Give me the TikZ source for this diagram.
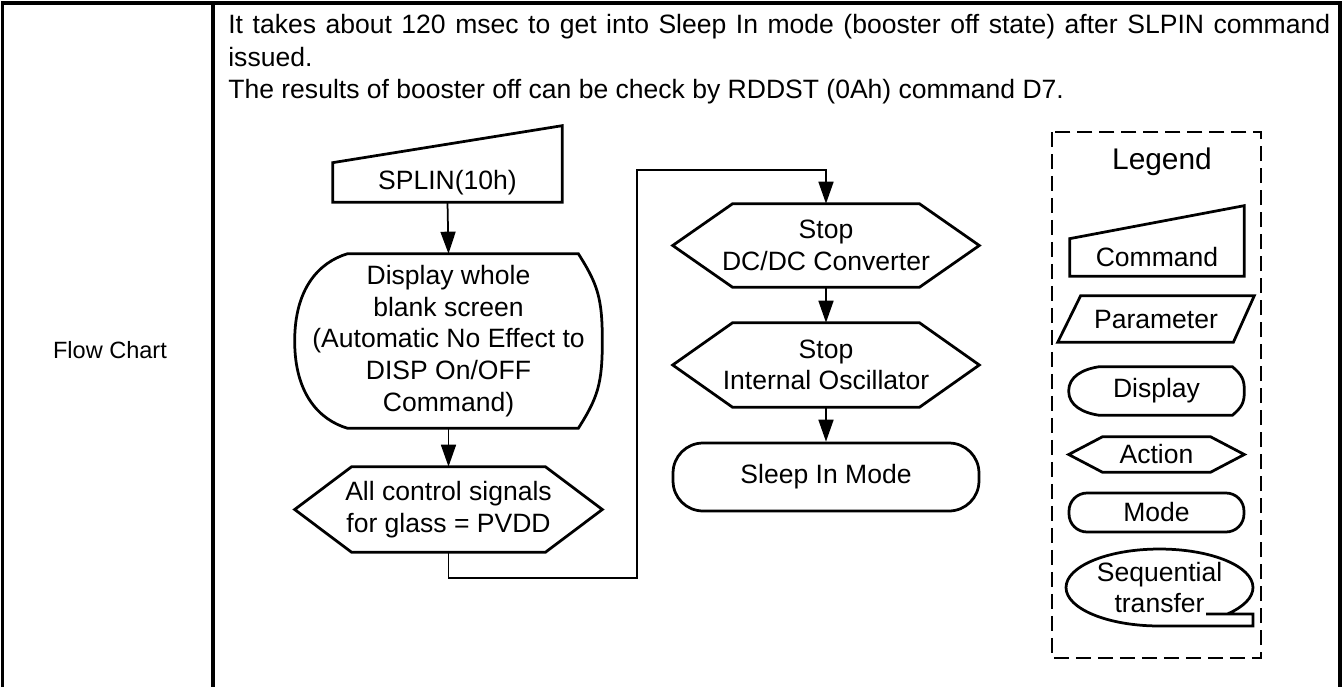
\documentclass[tikz,border=0pt]{standalone}
\usepackage{fontspec}
\setmainfont{Liberation Sans}
\usetikzlibrary{arrows.meta,calc}

\newcommand{\hexoutline}[2]{% node, point depth
  \draw[outline] (#1.west) -- ($(#1.north west)+(#2,0)$) -- ($(#1.north east)-(#2,0)$)
    -- (#1.east) -- ($(#1.south east)-(#2,0)$) -- ($(#1.south west)+(#2,0)$) -- cycle;}
\newcommand{\cmdoutline}[2]{% node, rise of the slanted top
  \draw[outline] (#1.south west) -- (#1.north west) -- ($(#1.north east)+(0,-#2)$)
    -- (#1.south east) -- cycle;}
\newcommand{\dispoutline}[4]{% node, left depth, right depth, half height
  \draw[outline] ($(#1.north west)+(#2,0)$) -- ($(#1.north east)-(#3,0)$)
    .. controls +(0.8*#3,0.35*#4) and +(0,-0.5*#4) .. (#1.east)
    .. controls +(0,0.5*#4) and +(0.8*#3,-0.35*#4) .. ($(#1.south east)-(#3,0)$)
    -- ($(#1.south west)+(#2,0)$)
    .. controls +(-0.55*#2,-0.1*#4) and +(0,0.6*#4) .. (#1.west)
    .. controls +(0,-0.6*#4) and +(-0.55*#2,0.1*#4) .. ($(#1.north west)+(#2,0)$) -- cycle;}

\begin{document}
\begin{tikzpicture}[x=0.02cm,y=-0.02cm,
  font=\fontsize{15.1}{18}\selectfont,
  frameline/.style={line width=0.08cm},
  outline/.style={line width=0.055cm},
  flow/.style={line width=0.035cm,-{Triangle[length=0.44cm,width=0.3cm]}},
  shapebox/.style 2 args={minimum width=#1,minimum height=#2,inner sep=0pt,align=center},
  legendbox/.style={line width=0.055cm,dash pattern=on 0.3cm off 0.14cm}]

\useasboundingbox (0,0) rectangle (1343,687);

% table frame
\draw[frameline] (2.5,687) -- (2.5,2.5) -- (1340,2.5) -- (1340,687);
\draw[frameline] (212.5,2.5) -- (212.5,687);
\node[font=\fontsize{13.4}{16}\selectfont] (rowname) at (110,350) {Flow Chart};
\node[anchor=base west,inner sep=0pt] (note1) at (228,33) {\makebox[22.04cm][s]{It takes about 120 msec to get into Sleep In mode (booster off state) after SLPIN command}};
\node[anchor=base west,inner sep=0pt] (note2) at (228,66) {issued.};
\node[anchor=base west,inner sep=0pt] (note3) at (228,98) {The results of booster off can be check by RDDST (0Ah) command D7.};

% left column
\node[shapebox={4.58cm}{0.78cm}] (splin) at (447.5,182.5) {SPLIN(10h)};
\cmdoutline{splin}{37}
\node[shapebox={6.14cm}{3.48cm}] (disp) at (448.5,341) {Display whole\\blank screen\\(Automatic No Effect to\\DISP On/OFF\\Command)};
\dispoutline{disp}{53}{24}{87}
\node[shapebox={6.14cm}{1.70cm}] (allsig) at (448.5,509.5) {All control signals\\for glass = PVDD};
\hexoutline{allsig}{57}

% right column
\node[shapebox={6.12cm}{1.66cm}] (dcdc) at (826,245.5) {Stop\\DC/DC Converter};
\hexoutline{dcdc}{60}
\node[shapebox={6.12cm}{1.68cm}] (osc) at (826,365) {Stop\\Internal Oscillator};
\hexoutline{osc}{60}
\node[shapebox={6.12cm}{1.36cm},draw,outline,rounded corners=0.6cm] (sleep) at (826,477) {Sleep In Mode};

\coordinate (lowbend) at (637,578);
\coordinate (highbend) at (637,170);
\draw[flow] (splin.south) -- (disp.north);
\draw[flow] (disp.south) -- (allsig.north);
\draw[flow] (allsig.south) |- (lowbend) -- (highbend) -| (dcdc.north);
\draw[flow] (dcdc.south) -- (osc.north);
\draw[flow] (osc.south) -- (sleep.north);

% legend
\draw[legendbox] (1052,132) rectangle (1261,658);
\node[font=\fontsize{17}{20}\selectfont] (legendtitle) at (1162,162) {Legend};
\node[shapebox={3.48cm}{0.74cm}] (cmdkey) at (1157,257.5) {Command};
\cmdoutline{cmdkey}{33}
\node[shapebox={3.92cm}{0.92cm}] (paramkey) at (1156,319) {Parameter};
\draw[outline] (paramkey.south west) -- ($(paramkey.north west)+(23,0)$) -- (paramkey.north east)
  -- ($(paramkey.south east)-(21,0)$) -- cycle;
\node[shapebox={3.5cm}{0.96cm}] (dispkey) at (1156.5,391) {Display};
\dispoutline{dispkey}{31}{12}{24}
\node[shapebox={3.5cm}{0.70cm}] (actkey) at (1156.5,454.5) {Action};
\hexoutline{actkey}{34}
\node[shapebox={3.5cm}{0.78cm},draw,outline,rounded corners=0.36cm] (modekey) at (1156.5,512.5) {Mode};
\node[align=center,inner sep=0pt] (seqkey) at (1159.5,587.5) {Sequential\\transfer};
\draw[outline] ($(seqkey.center)+(46.5,26.5)$) -- ++(47,0) -- ++(0,12) -- ($(seqkey.center)+(0,38.5)$)
  arc[start angle=-90,end angle=-403.5,x radius=1.87cm,y radius=0.77cm];
\end{tikzpicture}
\end{document}
